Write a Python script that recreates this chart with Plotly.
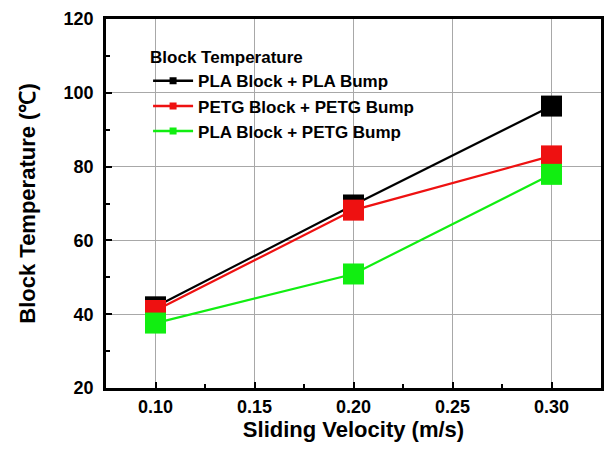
import plotly.graph_objects as go

velocity = [0.10, 0.20, 0.30]
pla_pla = [42.0, 69.6, 96.4]
petg_petg = [41.0, 68.2, 82.9]
pla_petg = [37.6, 50.9, 77.9]

series_names = ["PLA Block + PLA Bump", "PETG Block + PETG Bump", "PLA Block + PETG Bump"]
series_values = [pla_pla, petg_petg, pla_petg]
colors = ["#000000", "#ee1111", "#11ee11"]

x_ticks = [0.10, 0.15, 0.20, 0.25, 0.30]
y_ticks = [20, 40, 60, 80, 100, 120]

FONT = "Liberation Sans, Arial, sans-serif"

fig = go.Figure()
for name, vals, c in zip(series_names, series_values, colors):
    fig.add_trace(go.Scatter(
        x=velocity, y=vals, mode="lines+markers", name=name, showlegend=False,
        line=dict(color=c, width=2.2),
        marker=dict(symbol="square", size=21, color=c, line=dict(width=0)),
    ))
for name, c in zip(series_names, colors):
    fig.add_trace(go.Scatter(
        x=[None], y=[None], mode="lines+markers", name=name,
        line=dict(color=c, width=2.5),
        marker=dict(symbol="square", size=7, color=c, line=dict(width=0)),
    ))

axis_common = dict(
    showline=True, linecolor="black", linewidth=2.5, mirror=True,
    ticks="inside", ticklen=6, tickwidth=1.5, tickcolor="black",
    showgrid=True, gridcolor="#a8a8a8", gridwidth=1,
    zeroline=False,
    tickfont=dict(family=FONT, size=18, color="black", weight="bold"),
)

fig.update_xaxes(
    range=[0.075, 0.325], tickvals=x_ticks, ticktext=[f"{v:.2f}" for v in x_ticks],
    minor=dict(ticks="inside", ticklen=4, tickwidth=1.5, tickcolor="black", dtick=0.025, tick0=0.075, showgrid=False),
    title=dict(text="Sliding Velocity (m/s)", font=dict(family=FONT, size=22, color="black", weight="bold"), standoff=6),
    ticklabelstandoff=1,
    **axis_common,
)
fig.update_yaxes(
    range=[20, 120], tickvals=y_ticks, ticktext=[str(v) for v in y_ticks],
    minor=dict(ticks="inside", ticklen=4, tickwidth=1.5, tickcolor="black", dtick=10, tick0=10, showgrid=False),
    title=dict(text="Block Temperature (℃)", font=dict(family=FONT, size=22, color="black", weight="bold"), standoff=22),
    ticklabelstandoff=6,
    **axis_common,
)

fig.update_layout(
    width=611, height=452,
    margin=dict(l=106, r=7, t=19, b=64),
    paper_bgcolor="white", plot_bgcolor="white",
    legend=dict(
        x=0.085, y=0.94, xanchor="left", yanchor="top",
        bgcolor="rgba(0,0,0,0)", borderwidth=0,
        title=dict(text="Block Temperature", font=dict(family=FONT, size=17, color="black", weight="bold")),
        font=dict(family=FONT, size=17, color="black", weight="bold"),
        tracegroupgap=0, itemwidth=40,
    ),
)

fig.write_html("out.html")
